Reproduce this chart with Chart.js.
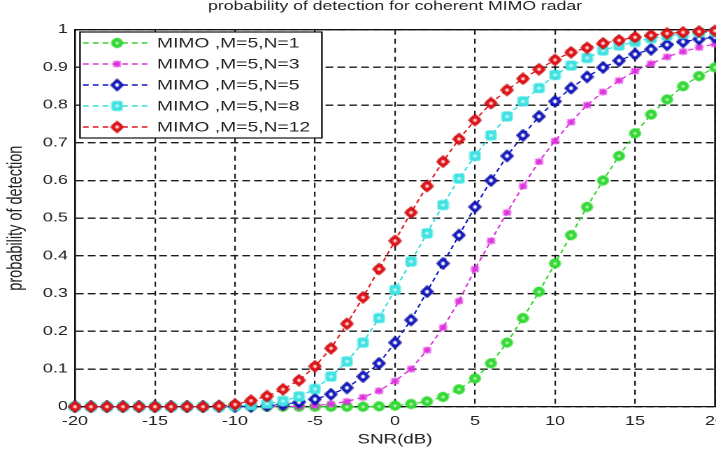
<!DOCTYPE html>
<html>
<head>
<meta charset="utf-8">
<script src="https://cdn.jsdelivr.net/npm/chart.js@4/dist/chart.umd.min.js"></script>
<style>
  html, body { margin: 0; padding: 0; background: #fff; overflow: hidden; }
  /* the figure is laid out on a 512px-wide canvas and widened to 716px */
  #wrap { width: 512px; height: 450px; transform: scaleX(1.3984375); transform-origin: 0 0; }
</style>
</head>
<body>
<div id="wrap"><canvas id="c" width="512" height="450"></canvas></div>
<script>
// SNR grid (dB)
const snr = [-20, -19, -18, -17, -16, -15, -14, -13, -12, -11, -10, -9, -8, -7, -6, -5, -4, -3, -2, -1,
             0, 1, 2, 3, 4, 5, 6, 7, 8, 9, 10, 11, 12, 13, 14, 15, 16, 17, 18, 19, 20];

// probability of detection per SNR point
const pdN1 = [0, 0, 0, 0, 0, 0, 0, 0, 0, 0, 0, 0, 0, 0, 0, 0, 0, 0, 0, 0.001,
              0.003, 0.007, 0.014, 0.026, 0.046, 0.075, 0.115, 0.17, 0.235, 0.305, 0.38, 0.455, 0.53, 0.6, 0.665, 0.725, 0.775, 0.815, 0.85, 0.877, 0.9];
const pdN3 = [0, 0, 0, 0, 0, 0, 0, 0, 0, 0, 0, 0, 0, 0, 0.001, 0.003, 0.007, 0.014, 0.025, 0.042,
              0.068, 0.1, 0.15, 0.21, 0.28, 0.365, 0.44, 0.515, 0.585, 0.65, 0.705, 0.755, 0.8, 0.835, 0.865, 0.89, 0.91, 0.928, 0.942, 0.953, 0.962];
const pdN5 = [0, 0, 0, 0, 0, 0, 0, 0, 0, 0, 0, 0.001, 0.003, 0.006, 0.012, 0.02, 0.033, 0.05, 0.08, 0.115,
              0.17, 0.23, 0.305, 0.38, 0.455, 0.53, 0.6, 0.665, 0.72, 0.77, 0.81, 0.845, 0.875, 0.9, 0.918, 0.935, 0.948, 0.96, 0.968, 0.975, 0.98];
const pdN8 = [0, 0, 0, 0, 0, 0, 0, 0, 0, 0, 0.002, 0.004, 0.008, 0.015, 0.027, 0.047, 0.08, 0.12, 0.17, 0.235,
              0.31, 0.385, 0.46, 0.535, 0.605, 0.665, 0.72, 0.77, 0.81, 0.845, 0.88, 0.905, 0.925, 0.945, 0.958, 0.968, 0.977, 0.984, 0.988, 0.992, 0.994];
const pdN12 = [0, 0, 0, 0, 0, 0, 0, 0, 0, 0.002, 0.006, 0.016, 0.028, 0.046, 0.07, 0.107, 0.155, 0.22, 0.29, 0.365,
               0.44, 0.515, 0.585, 0.65, 0.71, 0.76, 0.805, 0.84, 0.87, 0.895, 0.92, 0.94, 0.952, 0.964, 0.972, 0.98, 0.985, 0.99, 0.993, 0.995, 0.997];

const seriesLabels = ['MIMO ,M=5,N=1', 'MIMO ,M=5,N=3', 'MIMO ,M=5,N=5', 'MIMO ,M=5,N=8', 'MIMO ,M=5,N=12'];

// axis ticks
const xTickValues = [-20, -15, -10, -5, 0, 5, 10, 15, 20];
const xTickLabels = ['-20', '-15', '-10', '-5', '0', '5', '10', '15', '20'];
const yTickLabels = ['0', '0.1', '0.2', '0.3', '0.4', '0.5', '0.6', '0.7', '0.8', '0.9', '1'];

const titleText = 'probability of detection for coherent MIMO radar';
const xTitle = 'SNR(dB)';
const yTitle = 'probability of detection';

const FONT = "'Liberation Sans', Arial, Helvetica, sans-serif";

// ---- marker glyphs ----
function makeMarker(w, h, paint) {
  const c = document.createElement('canvas');
  c.width = w; c.height = h;
  paint(c.getContext('2d'), w, h);
  return c;
}
function diamond(g, w, h) {
  g.beginPath();
  g.moveTo(w / 2, 0.5); g.lineTo(w - 0.5, h / 2); g.lineTo(w / 2, h - 0.5); g.lineTo(0.5, h / 2);
  g.closePath();
}
function dot(g, w, h, rx, ry, col) {
  g.beginPath(); g.ellipse(w / 2, h / 2, rx, ry, 0, 0, Math.PI * 2); g.fillStyle = col; g.fill();
}
const mkGreen = makeMarker(10, 12, (g, w, h) => {
  diamond(g, w, h); g.fillStyle = '#34d834'; g.fill();
  g.beginPath(); g.ellipse(w / 2, h / 2, 4.2, 5, 0, 0, Math.PI * 2); g.fill();
  dot(g, w, h, 1.3, 1.6, '#b6f3b6');
});
const mkMagenta = makeMarker(7, 8, (g, w, h) => {
  g.strokeStyle = '#dd33dd'; g.lineWidth = 1.4;
  g.beginPath();
  g.moveTo(w / 2, 0.5); g.lineTo(w / 2, h - 0.5);
  g.moveTo(0.5, h / 2); g.lineTo(w - 0.5, h / 2);
  g.moveTo(1, 1.2); g.lineTo(w - 1, h - 1.2);
  g.moveTo(w - 1, 1.2); g.lineTo(1, h - 1.2);
  g.stroke();
});
const mkBlue = makeMarker(10, 13, (g, w, h) => {
  diamond(g, w, h); g.fillStyle = '#1016c4'; g.fill();
  g.strokeStyle = '#0a0e9a'; g.lineWidth = 1; g.stroke();
  dot(g, w, h, 1.4, 1.9, '#ffffff');
});
const mkCyan = makeMarker(9, 11, (g, w, h) => {
  g.fillStyle = '#3ee2e2';
  g.beginPath();
  if (g.roundRect) g.roundRect(0.5, 0.5, w - 1, h - 1, 2); else g.rect(0.5, 0.5, w - 1, h - 1);
  g.fill();
  dot(g, w, h, 1.4, 1.8, '#bff6f6');
});
const mkRed = makeMarker(10, 13, (g, w, h) => {
  diamond(g, w, h); g.fillStyle = '#e3151b'; g.fill();
  g.beginPath(); g.ellipse(w / 2, h / 2, 3.8, 4.6, 0, 0, Math.PI * 2); g.fill();
  g.strokeStyle = '#b80000'; g.lineWidth = 0.8; diamond(g, w, h); g.stroke();
  dot(g, w, h, 1.3, 1.7, '#ffd6d6');
});

const seriesValues = [pdN1, pdN3, pdN5, pdN8, pdN12];
const seriesColors = ['#33d633', '#dd33dd', '#1016c4', '#38dede', '#e0181e'];
const seriesMarkers = [mkGreen, mkMagenta, mkBlue, mkCyan, mkRed];

const datasets = seriesValues.map((vals, i) => ({
  label: seriesLabels[i],
  data: snr.map((s, k) => ({ x: s, y: vals[k] })),
  borderColor: seriesColors[i],
  backgroundColor: seriesColors[i],
  borderWidth: 1.2,
  borderDash: [4, 3],
  tension: 0,
  fill: false,
  pointStyle: seriesMarkers[i],
  pointRadius: 5,
  clip: false,
  order: seriesValues.length - i   // larger N drawn on top
}));

// closes the axes box (top and right edges)
const axesBox = {
  id: 'axesBox',
  beforeDatasetsDraw(chart) {
    const { ctx, chartArea: a } = chart;
    ctx.save();
    ctx.strokeStyle = '#111';
    ctx.lineWidth = 1.3;
    ctx.beginPath();
    ctx.moveTo(a.left, a.top); ctx.lineTo(a.right, a.top); ctx.lineTo(a.right, a.bottom);
    ctx.stroke();
    ctx.restore();
  }
};

// boxed legend in the upper-left corner of the axes
const boxedLegend = {
  id: 'boxedLegend',
  afterDraw(chart) {
    const { ctx, chartArea: a } = chart;
    const x1 = a.left + 3.6, y1 = a.top + 2.3, w = 173, h = 106;
    ctx.save();
    ctx.fillStyle = '#fff';
    ctx.fillRect(x1, y1, w, h);
    ctx.strokeStyle = '#111';
    ctx.lineWidth = 1.2;
    ctx.strokeRect(x1, y1, w, h);
    chart.data.datasets.forEach((ds, i) => {
      const y = y1 + 11 + i * 21;
      ctx.strokeStyle = ds.borderColor;
      ctx.lineWidth = 1.4;
      ctx.setLineDash([4, 3]);
      ctx.beginPath(); ctx.moveTo(x1 + 2.2, y); ctx.lineTo(x1 + 50, y); ctx.stroke();
      ctx.setLineDash([]);
      const m = ds.pointStyle;
      ctx.drawImage(m, x1 + 26.5 - m.width / 2, y - m.height / 2);
      ctx.fillStyle = '#222';
      ctx.font = '13.8px ' + FONT;
      ctx.textBaseline = 'middle';
      ctx.textAlign = 'left';
      ctx.fillText(ds.label, x1 + 55, y + 0.5);
    });
    ctx.restore();
  }
};

new Chart(document.getElementById('c'), {
  type: 'line',
  data: { datasets },
  plugins: [axesBox, boxedLegend],
  options: {
    responsive: false,
    devicePixelRatio: 2,
    animation: false,
    events: [],
    layout: { autoPadding: false, padding: { left: 0, right: 0.7, top: 0, bottom: 0 } },
    plugins: {
      legend: { display: false },
      tooltip: { enabled: false },
      title: {
        display: true,
        text: titleText,
        fullSize: false,
        color: '#222',
        font: { family: FONT, size: 12.6, weight: 'normal', lineHeight: 1 },
        padding: { top: 0, bottom: 17.1 }
      }
    },
    scales: {
      x: {
        type: 'linear',
        min: -20, max: 20,
        afterBuildTicks(s) { s.ticks = xTickValues.map(v => ({ value: v })); },
        ticks: {
          autoSkip: false, maxRotation: 0, color: '#222', padding: 7,
          font: { family: FONT, size: 12.9 },
          callback: v => xTickLabels[xTickValues.indexOf(v)] ?? ''
        },
        grid: { color: '#1a1a1a', lineWidth: 1.1, drawTicks: false },
        border: { display: true, color: '#111', width: 1.3, dash: [5, 4] },
        title: { display: true, text: xTitle, color: '#222', font: { family: FONT, size: 13.4 }, padding: { top: 0, bottom: 2 } },
        afterFit(s) { s.height = 43.3; s.paddingLeft = 0; s.paddingRight = 0; }
      },
      y: {
        min: 0, max: 1,
        afterBuildTicks(s) { s.ticks = yTickLabels.map((t, i) => ({ value: i / 10 })); },
        ticks: {
          color: '#222', padding: 5,
          font: { family: FONT, size: 12.9 },
          callback: v => yTickLabels[Math.round(v * 10)] ?? ''
        },
        grid: { color: '#1a1a1a', lineWidth: 1.4, drawTicks: false },
        border: { display: true, color: '#111', width: 1.3, dash: [5.5, 3] },
        title: { display: true, text: yTitle, color: '#222', font: { family: FONT, size: 14.5 }, padding: { top: 3, bottom: 0 } },
        afterFit(s) { s.width = 53.6; s.paddingTop = 0; s.paddingBottom = 0; }
      }
    }
  }
});
</script>
</body>
</html>
